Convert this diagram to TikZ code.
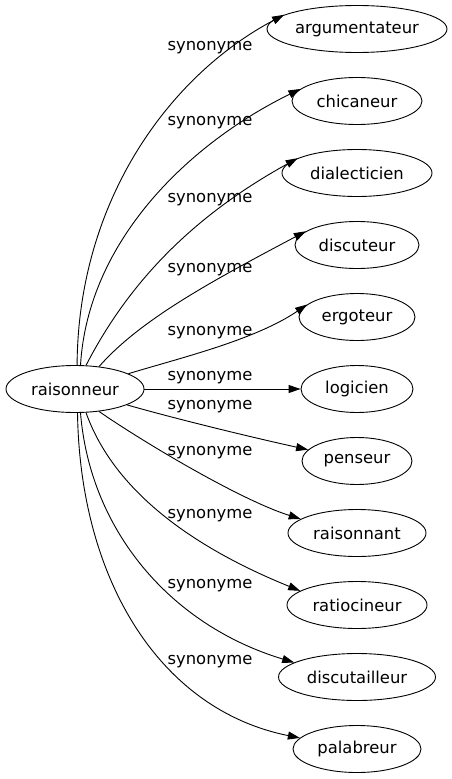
\documentclass[tikz,border=0pt]{standalone}
\usepackage{fontspec}
\setmainfont{DejaVu Sans}
\usetikzlibrary{shapes.geometric,arrows.meta}
\begin{document}
\begin{tikzpicture}[x=1pt,y=-1pt,
  every node/.style={font=\fontsize{16.4}{19}\selectfont},
  word/.style={ellipse,draw,line width=0.9pt,inner sep=0pt,minimum height=47pt},
  lbl/.style={inner sep=0pt},
  syn/.style={line width=0.9pt,-{Triangle[length=12pt,width=8pt]}}]
\useasboundingbox (0,0) rectangle (452,779);
\node[word,minimum width=138pt] (r) at (75,389) {raisonneur};
\node[word,minimum width=180pt] (t1) at (357,29) {argumentateur};
\node[word,minimum width=130pt] (t2) at (357,101) {chicaneur};
\node[word,minimum width=150pt] (t3) at (357,173) {dialecticien};
\node[word,minimum width=124pt] (t4) at (357,245) {discuteur};
\node[word,minimum width=116pt] (t5) at (357,317) {ergoteur};
\node[word,minimum width=112pt] (t6) at (357,389) {logicien};
\node[word,minimum width=110pt] (t7) at (357,461) {penseur};
\node[word,minimum width=138pt] (t8) at (357,533) {raisonnant};
\node[word,minimum width=140pt] (t9) at (357,605) {ratiocineur};
\node[word,minimum width=157pt] (t10) at (357,677) {discutailleur};
\node[word,minimum width=128pt] (t11) at (357,749) {palabreur};

\draw[syn] (r.85) .. controls (78,200) and (170,75) .. (t1.169);
\draw[syn] (r.77.7) .. controls (88,240) and (190,143) .. (t2.168);
\draw[syn] (r.65.6) .. controls (130,280) and (195,215) .. (t3.166.7);
\draw[syn] (r.43.7) .. controls (140,320) and (210,282) .. (t4.165.2);
\draw[syn] (r.16.8) .. controls (180,358) and (255,340) .. (t5.166.8);
\draw[syn] (r.0) -- (t6.180);
\draw[syn] (r.-17.1) .. controls (180,420) and (255,438) .. (t7.167.2);
\draw[syn] (r.-43.7) .. controls (140,440) and (240,500) .. (t8.166);
\draw[syn] (r.-65.6) .. controls (110,480) and (175,540) .. (t9.166.7);
\draw[syn] (r.-77.2) .. controls (90,530) and (170,625) .. (t10.167);
\draw[syn] (r.-84.8) .. controls (80,580) and (160,710) .. (t11.169.6);

\node[lbl] (l1) at (210,48) {synonyme};
\node[lbl] (l2) at (210,123) {synonyme};
\node[lbl] (l3) at (210,200) {synonyme};
\node[lbl] (l4) at (210,270) {synonyme};
\node[lbl] (l5) at (210,333) {synonyme};
\node[lbl] (l6) at (210,378) {synonyme};
\node[lbl] (l7) at (210,407) {synonyme};
\node[lbl] (l8) at (210,453) {synonyme};
\node[lbl] (l9) at (210,516) {synonyme};
\node[lbl] (l10) at (210,586) {synonyme};
\node[lbl] (l11) at (210,662) {synonyme};
\end{tikzpicture}
\end{document}
